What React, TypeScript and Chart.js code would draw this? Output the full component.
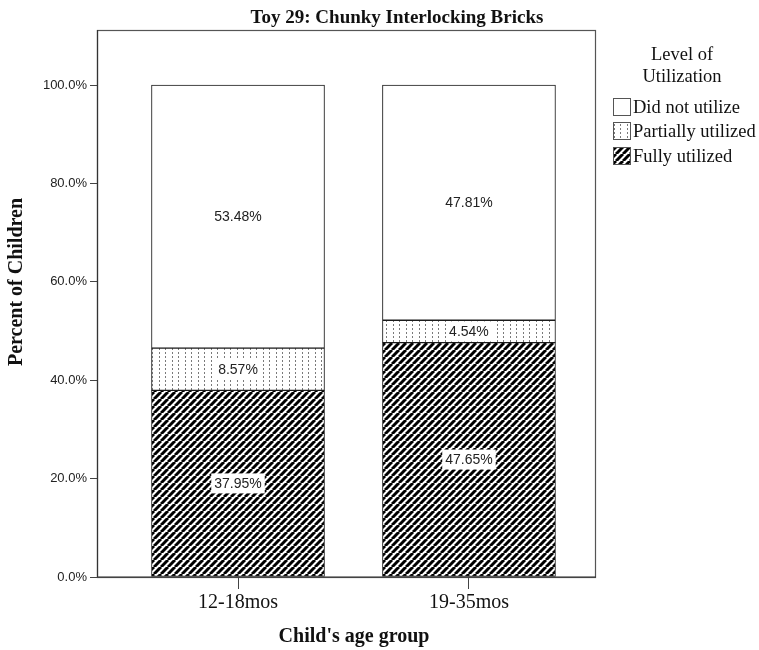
import React, { useEffect, useRef } from 'react';
import { Chart, registerables } from 'chart.js';

Chart.register(...registerables);

const categories = ['12-18mos', '19-35mos'];
const fullyUtilized = [37.95, 47.65];
const partiallyUtilized = [8.57, 4.54];
const didNotUtilize = [53.48, 47.81];
const yTickValues = [0, 20, 40, 60, 80, 100];
const seriesNames = ['Fully utilized', 'Partially utilized', 'Did not utilize'];
const chartTitle = 'Toy 29: Chunky Interlocking Bricks';
const legendTitle = ['Level of', 'Utilization'];
const xTitle = "Child's age group";
const yTitle = 'Percent of Children';

const SERIF = '"Liberation Serif", "Times New Roman", serif';
const SANS = '"Liberation Sans", Arial, sans-serif';

function makeHatch(ctx: CanvasRenderingContext2D) {
  const s = 7;
  const c = document.createElement('canvas');
  c.width = s;
  c.height = s;
  const g = c.getContext('2d')!;
  g.fillStyle = '#ffffff';
  g.fillRect(0, 0, s, s);
  g.strokeStyle = '#000000';
  g.lineWidth = 3;
  for (let k = -1; k <= 1; k++) {
    g.beginPath();
    g.moveTo(k * s, s);
    g.lineTo(k * s + s, 0);
    g.stroke();
  }
  return ctx.createPattern(c, 'repeat')!;
}

function makeDots(ctx: CanvasRenderingContext2D) {
  const c = document.createElement('canvas');
  c.width = 13;
  c.height = 4;
  const g = c.getContext('2d')!;
  g.fillStyle = '#ffffff';
  g.fillRect(0, 0, 13, 4);
  g.fillStyle = '#7a7a7a';
  g.fillRect(3, 0, 1, 2);
  g.fillRect(9, 0, 1, 2);
  return ctx.createPattern(c, 'repeat')!;
}

export default function App() {
  const ref = useRef<HTMLCanvasElement>(null);

  useEffect(() => {
    const canvas = ref.current!;
    const ctx = canvas.getContext('2d')!;
    const hatch = makeHatch(ctx);
    const dots = makeDots(ctx);
    const seriesValues = [fullyUtilized, partiallyUtilized, didNotUtilize];
    const fills: any[] = [hatch, dots, '#ffffff'];

    const datasets = seriesValues.map((vals, k) => ({
      label: seriesNames[k],
      data: categories.map((_, i) => {
        let start = 0;
        for (let j = 0; j < k; j++) start += seriesValues[j][i];
        return { x: i, y: [start, start + vals[i]] };
      }),
      backgroundColor: fills[k],
      borderColor: '#1a1a1a',
      borderWidth: 1,
      borderSkipped: false,
      grouped: false,
      barThickness: 173,
    }));

    const decor = {
      id: 'decor',
      afterDatasetsDraw(chart: any) {
        const c = chart.ctx as CanvasRenderingContext2D;
        c.save();
        chart.data.datasets.forEach((_: any, k: number) => {
          const meta = chart.getDatasetMeta(k);
          meta.data.forEach((el: any, i: number) => {
            const { x, y, base } = el.getProps(['x', 'y', 'base'], true);
            const cy = (y + base) / 2;
            const txt = seriesValues[k][i].toFixed(2) + '%';
            c.font = '14px ' + SANS;
            const w = c.measureText(txt).width;
            c.fillStyle = '#ffffff';
            c.fillRect(x - w / 2 - 3, cy - 10, w + 6, 20);
            c.fillStyle = '#222222';
            c.textAlign = 'center';
            c.textBaseline = 'middle';
            c.fillText(txt, x, cy + 0.5);
          });
        });
        c.restore();
      },
      afterDraw(chart: any) {
        const c = chart.ctx as CanvasRenderingContext2D;
        const a = chart.chartArea;
        c.save();
        // frame
        c.strokeStyle = '#555555';
        c.lineWidth = 1.2;
        c.strokeRect(a.left + 0.5, a.top + 0.5, a.right - a.left - 1, a.bottom - a.top);
        c.strokeStyle = '#333333';
        c.beginPath();
        c.moveTo(a.left + 0.5, a.top);
        c.lineTo(a.left + 0.5, a.bottom);
        c.lineTo(a.right, a.bottom);
        c.stroke();

        // chart title
        c.fillStyle = '#111111';
        c.textAlign = 'center';
        c.textBaseline = 'middle';
        c.font = 'bold 19px ' + SERIF;
        c.fillText(chartTitle, 397, 18);

        // x title
        c.font = 'bold 20px ' + SERIF;
        c.fillText(xTitle, 354, 637);

        // y title
        c.save();
        c.translate(17, 282);
        c.rotate(-Math.PI / 2);
        c.fillText(yTitle, 0, 0);
        c.restore();

        // legend
        c.font = '18.5px ' + SERIF;
        c.fillText(legendTitle[0], 682, 55);
        c.fillText(legendTitle[1], 682, 77);
        const order = [2, 1, 0];
        const rowsY = [107, 131, 156];
        order.forEach((k, r) => {
          const yy = rowsY[r];
          c.fillStyle = fills[k];
          c.fillRect(613, yy - 9, 18, 18);
          c.strokeStyle = '#555555';
          c.lineWidth = 1;
          c.strokeRect(613.5, yy - 8.5, 17, 17);
          c.fillStyle = '#111111';
          c.textAlign = 'left';
          c.fillText(seriesNames[k], 633, yy + 1);
        });
        c.restore();
      },
    };

    const chart = new Chart(canvas, {
      type: 'bar',
      data: { datasets: datasets as any },
      options: {
        responsive: false,
        animation: false,
        devicePixelRatio: 1,
        events: [],
        layout: { padding: { top: 30, right: 163, left: 0, bottom: 0 } },
        plugins: {
          legend: { display: false },
          tooltip: { enabled: false },
          title: { display: false },
        },
        scales: {
          x: {
            type: 'linear',
            offset: false,
            min: -0.6105,
            max: 1.55,
            afterBuildTicks: (s: any) => {
              s.ticks = categories.map((_, i) => ({ value: i }));
            },
            afterFit: (s: any) => {
              s.height = 73;
            },
            ticks: {
              autoSkip: false,
              maxRotation: 0,
              padding: 2,
              color: '#111111',
              font: { family: SERIF, size: 20 },
              callback: (v: any) => categories[v] ?? '',
            },
            grid: {
              display: true,
              offset: false,
              drawOnChartArea: false,
              drawTicks: true,
              tickLength: 12,
              color: '#444444',
            },
            border: { display: false },
          },
          y: {
            type: 'linear',
            min: 0,
            max: 111.2,
            afterBuildTicks: (s: any) => {
              s.ticks = yTickValues.map((v) => ({ value: v }));
            },
            afterFit: (s: any) => {
              s.width = 97;
            },
            ticks: {
              padding: 3,
              color: '#222222',
              font: { family: SANS, size: 13 },
              callback: (v: any) => Number(v).toFixed(1) + '%',
            },
            grid: {
              display: true,
              drawOnChartArea: false,
              drawTicks: true,
              tickLength: 7,
              color: '#444444',
            },
            border: { display: false },
          },
        },
      } as any,
      plugins: [decor],
    });

    return () => chart.destroy();
  }, []);

  return (
    <div style={{ position: 'absolute', left: 0, top: 0, width: 759, height: 650, background: '#ffffff' }}>
      <canvas ref={ref} width={759} height={650} style={{ display: 'block' }} />
    </div>
  );
}
